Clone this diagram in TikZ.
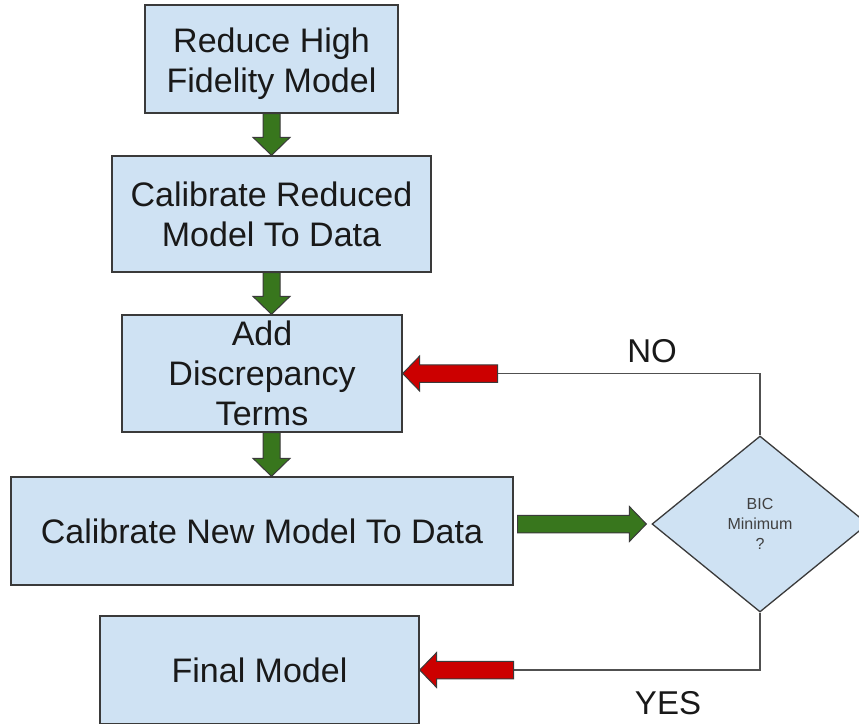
\documentclass[tikz,border=0pt]{standalone}
\usepackage{fontspec}
\setmainfont{Liberation Sans}
\usetikzlibrary{shapes.geometric,calc}
\definecolor{boxfill}{HTML}{CFE2F3}
\definecolor{boxline}{HTML}{3A3A3A}
\definecolor{linkline}{HTML}{505050}
\definecolor{agreen}{HTML}{38761D}
\definecolor{ared}{HTML}{CC0000}
\newcommand\dnarrow[3]{\filldraw[fill=#3,draw=boxline,line width=1pt] let \p1=(#1), \p2=(#2) in
  (\x1-8.5pt,\y1) -- (\x1-8.5pt,\y2+18pt) -- (\x1-18.5pt,\y2+18pt) -- (\x1,\y2) -- (\x1+18.5pt,\y2+18pt) -- (\x1+8.5pt,\y2+18pt) -- (\x1+8.5pt,\y1) -- cycle;}
\newcommand\rtarrow[3]{\filldraw[fill=#3,draw=boxline,line width=1pt] let \p1=(#1), \p2=(#2) in
  (\x1,\y1-8.75pt) -- (\x2-17pt,\y1-8.75pt) -- (\x2-17pt,\y1-17.5pt) -- (\x2,\y1) -- (\x2-17pt,\y1+17.5pt) -- (\x2-17pt,\y1+8.75pt) -- (\x1,\y1+8.75pt) -- cycle;}
\newcommand\ltarrow[3]{\filldraw[fill=#3,draw=boxline,line width=1pt] let \p1=(#1), \p2=(#2) in
  (\x1,\y1-8.75pt) -- (\x2+17pt,\y1-8.75pt) -- (\x2+17pt,\y1-17.5pt) -- (\x2,\y1) -- (\x2+17pt,\y1+17.5pt) -- (\x2+17pt,\y1+8.75pt) -- (\x1,\y1+8.75pt) -- cycle;}
\begin{document}
\begin{tikzpicture}[x=1pt,y=-1pt,
  box/.style={draw=boxline, fill=boxfill, line width=1.3pt, align=center, inner sep=0pt,
    text=black!90, font=\fontsize{34}{40}\selectfont},
  decision/.style={diamond, draw=boxline, fill=boxfill, line width=1.3pt, inner sep=0pt,
    align=center, text=black!75, font=\fontsize{16}{20}\selectfont},
  lbl/.style={inner sep=0pt, text=black!90, font=\fontsize{33}{38}\selectfont},
  link/.style={draw=linkline, line width=1.4pt}]
\useasboundingbox (0,0) rectangle (859,723);
\fill[white] (0,0) rectangle (859,723);

\node[box, minimum width=253pt, minimum height=108pt] (b1) at (271.5,59) {\rule{0pt}{35pt}Reduce High\\Fidelity Model};
\node[box, minimum width=319pt, minimum height=116pt] (b2) at (271.5,214) {Calibrate Reduced\\Model To Data};
\node[box, minimum width=280pt, minimum height=117pt] (b3) at (262,373.5) {Add\\Discrepancy\\Terms};
\node[box, minimum width=502pt, minimum height=108pt] (b4) at (262,531) {Calibrate New Model To Data};
\node[box, minimum width=319pt, minimum height=108pt] (b5) at (259.5,670) {Final Model};
\node[decision, minimum width=216pt, minimum height=176pt] (d) at (760,524) {BIC\\Minimum\\?};

\node[lbl] (no) at (652,351) {NO};
\node[lbl] (yes) at (668,703) {YES};

\coordinate (nostart) at ($(b3.east)+(95,0)$);
\coordinate (yesstart) at ($(b5.east)+(94,0)$);
\coordinate (gstart) at ($(b4.east |- d.west)+(4,0)$);
\coordinate (gend) at ($(d.west)+(-5,0)$);

\dnarrow{b1.south}{b2.north}{agreen}
\dnarrow{b2.south}{b3.north -| b1.south}{agreen}
\dnarrow{b3.south -| b1.south}{b4.north -| b1.south}{agreen}
\rtarrow{gstart}{gend}{agreen}

\draw[link] (d.north) |- (nostart);
\draw[link] (d.south) |- (yesstart);
\ltarrow{nostart}{b3.east}{ared}
\ltarrow{yesstart}{b5.east}{ared}
\end{tikzpicture}
\end{document}
